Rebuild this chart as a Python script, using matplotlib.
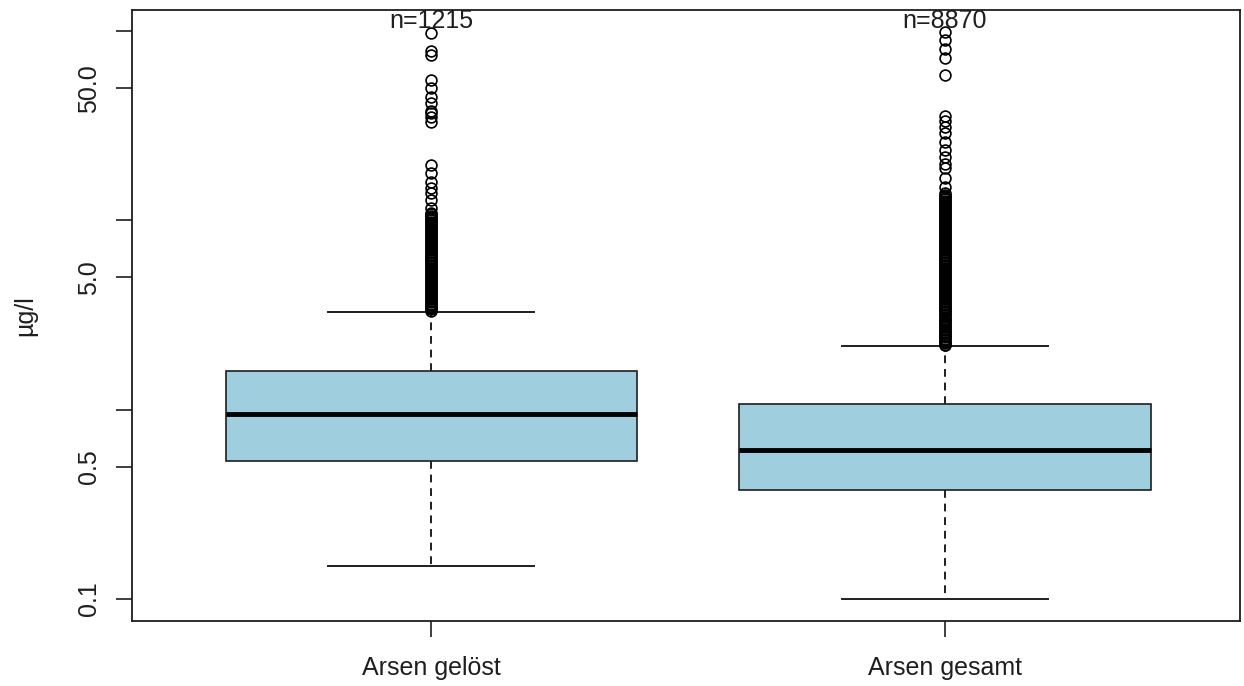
import matplotlib
matplotlib.use("Agg")
import matplotlib.pyplot as plt
from matplotlib.ticker import FixedLocator, NullLocator

plt.rcParams['font.family'] = ['Liberation Sans', 'DejaVu Sans']

categories = ["Arsen gelöst", "Arsen gesamt"]
counts = [1215, 8870]

q1 = [0.538, 0.378]
median = [0.952, 0.61]
q3 = [1.61, 1.076]
whisker_low = [0.15, 0.10]
whisker_high = [3.3, 2.18]

outliers_geloest = [98, 79, 75, 55, 50, 45, 42, 38, 37, 35, 33,
                    19.6, 17.8, 15.9, 14.8, 13.9, 12.8, 11.7, 11.0,
                    10.8, 10.6, 10.41, 10.22, 10.04, 9.86, 9.68, 9.5, 9.33,
                    9.16, 9.0, 8.84, 8.68, 8.52, 8.37, 8.22, 8.07, 7.92,
                    7.78, 7.64, 7.5, 7.37, 7.24, 7.11, 6.98, 6.85, 6.73,
                    6.61, 6.49, 6.37, 6.26, 6.15, 6.04, 5.93, 5.82, 5.72,
                    5.62, 5.52, 5.42, 5.32, 5.22, 5.13, 5.04, 4.95, 4.86,
                    4.77, 4.68, 4.6, 4.52, 4.44, 4.36, 4.28, 4.2, 4.12,
                    4.05, 3.98, 3.91, 3.84, 3.77, 3.7, 3.63, 3.57, 3.51,
                    3.45, 3.39, 3.33]

outliers_gesamt = [99, 90, 81, 72, 59,
                   35.6, 33.5, 31.1, 28.9, 25.9, 23.5, 21.6, 20.0,
                   18.9, 16.7, 15.0, 13.9, 13.65, 13.4, 13.16, 12.92,
                   12.69, 12.46, 12.24, 12.02, 11.8, 11.59, 11.38, 11.18,
                   10.98, 10.78, 10.59, 10.4, 10.21, 10.03, 9.85, 9.67,
                   9.5, 9.33, 9.16, 9.0, 8.84, 8.68, 8.52, 8.37, 8.22,
                   8.07, 7.92, 7.78, 7.64, 7.5, 7.37, 7.24, 7.11, 6.98,
                   6.85, 6.73, 6.61, 6.49, 6.37, 6.26, 6.15, 6.04, 5.93,
                   5.82, 5.72, 5.62, 5.52, 5.42, 5.32, 5.22, 5.13, 5.04,
                   4.95, 4.86, 4.77, 4.68, 4.6, 4.52, 4.44, 4.36, 4.28,
                   4.2, 4.12, 4.05, 3.98, 3.91, 3.84, 3.77, 3.7, 3.63,
                   3.57, 3.51, 3.45, 3.39, 3.33, 3.27, 3.21, 3.15, 3.09,
                   3.03, 2.98, 2.93, 2.88, 2.83, 2.78, 2.73, 2.68, 2.63,
                   2.58, 2.53, 2.49, 2.45, 2.41, 2.37, 2.33, 2.29, 2.25,
                   2.21, 2.19]

fliers = [outliers_geloest, outliers_gesamt]

y_major = [0.1, 0.5, 5.0, 50.0]
y_major_labels = ["0.1", "0.5", "5.0", "50.0"]
y_minor = [1.0, 10.0, 100.0]

box_color = "#9fcfdf"
ink = "#1e1e1e"

fig = plt.figure(figsize=(12.44, 6.86), dpi=100)
ax = fig.add_axes([132/1244, 65/686, 1108/1244, 611/686])

stats = []
for i in range(2):
    stats.append(dict(med=median[i], q1=q1[i], q3=q3[i],
                      whislo=whisker_low[i], whishi=whisker_high[i],
                      fliers=fliers[i], label=categories[i]))

ax.bxp(stats, positions=[1, 2], widths=0.8, capwidths=0.4,
       patch_artist=True, showfliers=True,
       boxprops=dict(facecolor=box_color, edgecolor=ink, linewidth=1.2),
       medianprops=dict(color="black", linewidth=3.5, solid_capstyle="butt"),
       whiskerprops=dict(color=ink, linewidth=1.4, linestyle=(0, (4, 3))),
       capprops=dict(color=ink, linewidth=1.4),
       flierprops=dict(marker="o", markerfacecolor="none", markeredgecolor="black",
                       markersize=7.8, markeredgewidth=1.2, linestyle="none"))

ax.set_yscale("log")
ax.set_ylim(0.0766, 129.4)
ax.set_xlim(0.418, 2.574)

ax.yaxis.set_major_locator(FixedLocator(y_major + y_minor))
ax.yaxis.set_minor_locator(NullLocator())
ax.set_yticklabels(y_major_labels + ["", "", ""])
for lab in ax.get_yticklabels():
    lab.set_rotation(90)
    lab.set_va("center")

ax.set_xticks([1, 2])
ax.set_xticklabels(categories)

ax.tick_params(axis="both", direction="out", length=11.5, width=1.2,
               colors=ink, labelsize=18, labelcolor=ink)
ax.tick_params(axis="x", pad=14)
ax.tick_params(axis="y", pad=11)

for sp in ax.spines.values():
    sp.set_color(ink)
    sp.set_linewidth(1.3)

ax.set_ylabel("µg/l", fontsize=18, color=ink, va="center")
ax.yaxis.set_label_coords(-0.096, 0.5)

for i, n in enumerate(counts):
    ax.text(i + 1, 0.982, f"n={n}", transform=ax.get_xaxis_transform(),
            ha="center", va="center", fontsize=18, color=ink)

fig.savefig("out.png", dpi=100)
